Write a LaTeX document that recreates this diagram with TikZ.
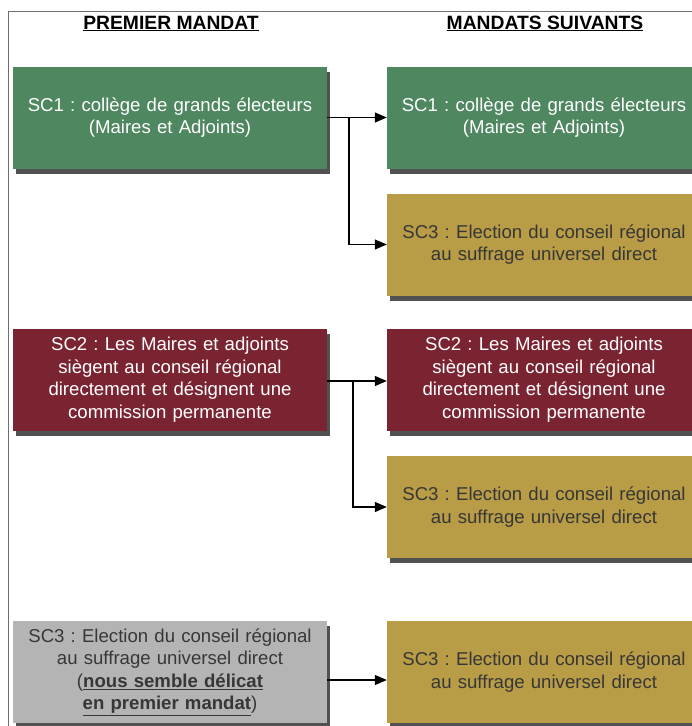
\documentclass[tikz,border=0pt]{standalone}
\usepackage{fontspec}
\setmainfont{Liberation Sans}
\usetikzlibrary{arrows.meta,shadows,calc}
\frenchspacing
\definecolor{boxgreen}{RGB}{78,135,96}
\definecolor{boxred}{RGB}{123,36,49}
\definecolor{boxgold}{RGB}{184,156,70}
\definecolor{boxgrey}{RGB}{180,180,180}
\definecolor{darktext}{RGB}{55,55,55}
\definecolor{framegrey}{RGB}{110,110,110}
\tikzset{
  box/.style={rectangle, minimum width=314pt, minimum height=102pt, inner sep=0pt,
    text width=310pt, align=center, font=\fontsize{18.6}{22.5}\selectfont\frenchspacing,
    drop shadow={shadow xshift=3pt, shadow yshift=-5pt, fill=black!80, opacity=0.85}},
  greenbox/.style={box, fill=boxgreen, text=white},
  redbox/.style={box, fill=boxred, text=white},
  goldbox/.style={box, fill=boxgold, text=darktext},
  greybox/.style={box, fill=boxgrey, text=darktext},
  heading/.style={anchor=base, inner sep=0pt, font=\fontsize{19.3}{22}\selectfont\bfseries},
  arr/.style={line width=1.2pt, -{Triangle[length=12pt,width=10pt]}},
  link/.style={line width=1.2pt}
}
\begin{document}
\begin{tikzpicture}[x=1pt, y=-1pt]
  \useasboundingbox (0,0) rectangle (692,726);
  % outer frame (top and left edges)
  \draw[framegrey, line width=1pt] (8,730) -- (8,11) -- (700,11);

  % column headings
  \node[heading] (h1) at (171,29) {\underline{PREMIER MANDAT}};
  \node[heading] (h2) at (545,29) {\underline{MANDATS SUIVANTS}};

  % first term
  \node[greenbox] (l1) at (170,117.5) {SC1 : collège de grands électeurs\\(Maires et Adjoints)};
  \node[redbox]   (l2) at (170,379.5) {SC2 : Les Maires et adjoints\\siègent au conseil régional\\directement et désignent une\\commission permanente};
  \node[greybox]  (l3) at (170,672) {SC3 : Election du conseil régional\\au suffrage universel direct\\(\underline{\textbf{nous semble délicat}}\\\underline{\textbf{en premier mandat}})};

  % following terms
  \node[greenbox] (r1)  at (544,117.5) {SC1 : collège de grands électeurs\\(Maires et Adjoints)};
  \node[goldbox]  (r1b) at (544,244.5) {SC3 : Election du conseil régional\\au suffrage universel direct};
  \node[redbox]   (r2)  at (544,379.5) {SC2 : Les Maires et adjoints\\siègent au conseil régional\\directement et désignent une\\commission permanente};
  \node[goldbox]  (r2b) at (544,507) {SC3 : Election du conseil régional\\au suffrage universel direct};
  \node[goldbox]  (r3)  at (544,672) {SC3 : Election du conseil régional\\au suffrage universel direct};

  % connectors
  \coordinate (j1) at (349,117.5);
  \draw[arr] (l1.east) -- (r1.west);
  \draw[arr] (j1) |- (r1b.west);

  \coordinate (j2) at (353,381);
  \draw[arr] (l2.east |- j2) -- (r2.west |- j2);
  \draw[arr] (j2) |- (r2b.west);

  \draw[arr] ([yshift=-8pt]l3.east) -- ([yshift=-8pt]l3.east -| r3.west);
\end{tikzpicture}
\end{document}
